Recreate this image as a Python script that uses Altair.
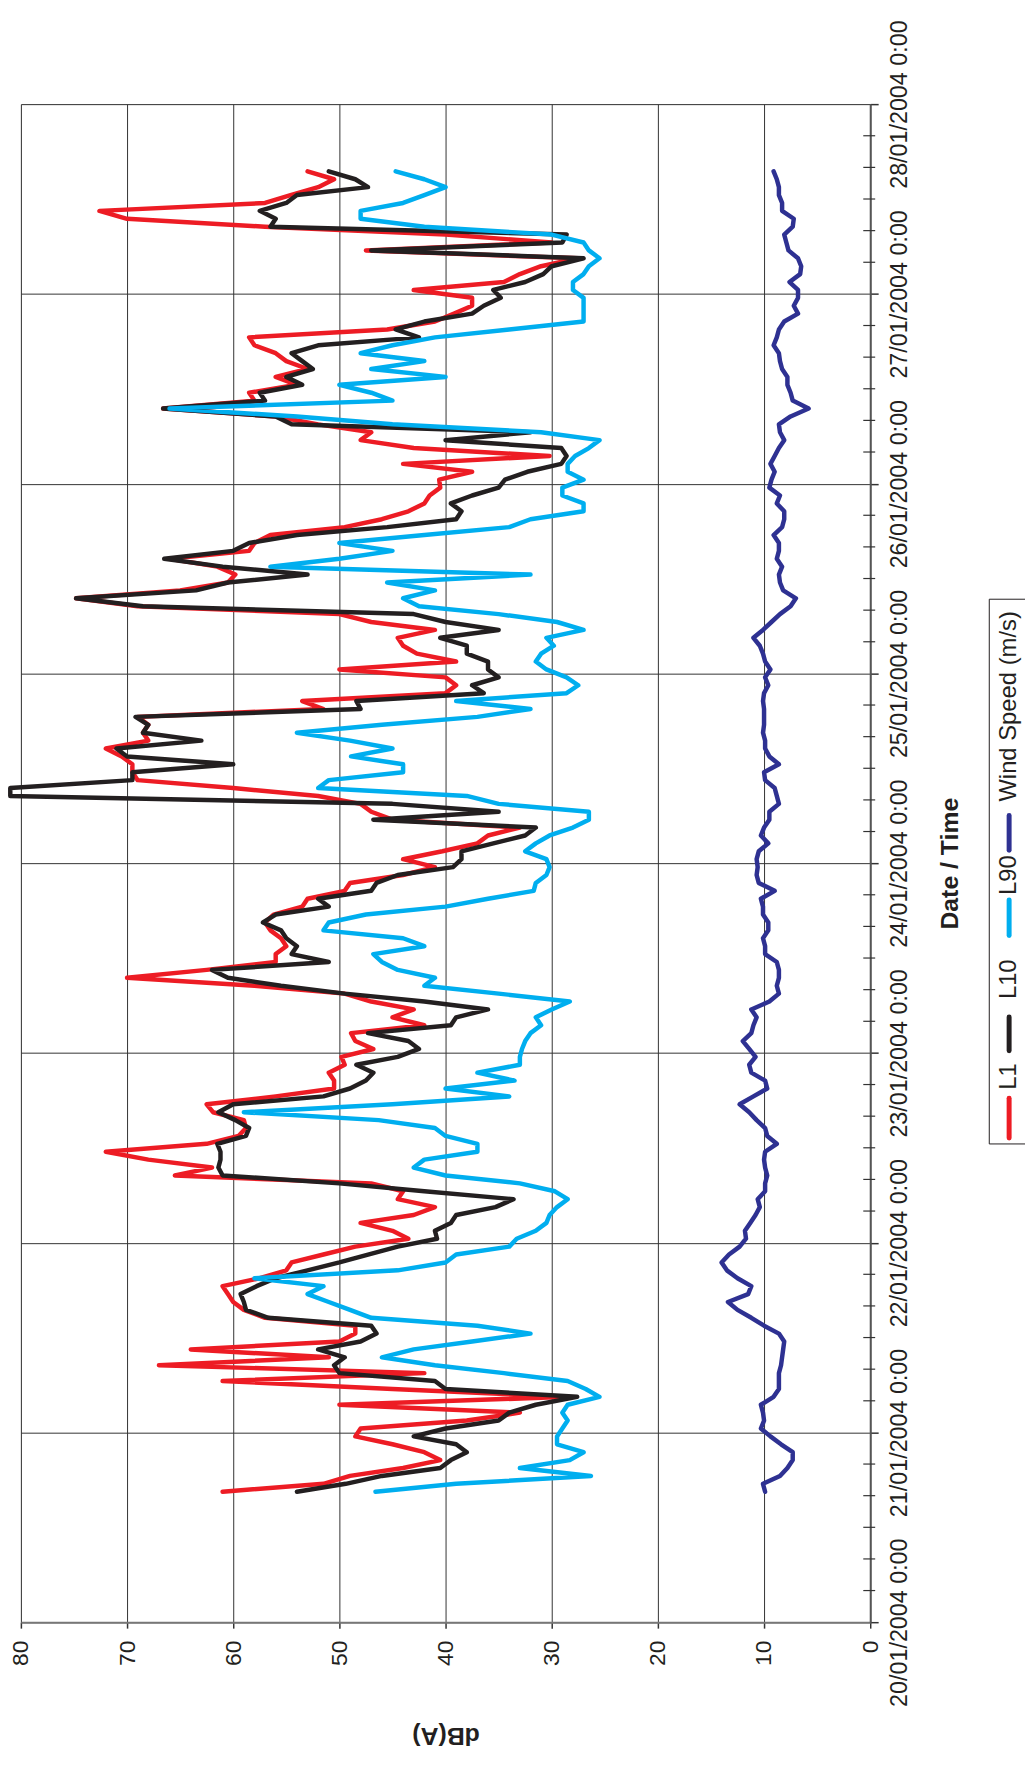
import altair as alt
import pandas as pd

# ---------------- data (hourly from 20/01/2004 16:30) -------------
l1 = [61, 51.5, 49, 44, 40.5, 42, 45, 48.5, 48, 38, 33, 50,
      28.5, 45, 61, 42, 67, 51, 64, 50, 48.5, 48.5, 57, 59,
      60, 60.5, 61, 57.5, 55, 54.5, 51.5, 48.5, 43.5, 45, 48, 43,
      41, 44.5, 44, 47, 65.5, 62, 68, 72, 62.5, 59.5, 58.8, 59,
      61.9, 62.5, 56, 50.5, 50.5, 51, 49.5, 49.8, 46.8, 48.5, 48.9, 42,
      45, 43, 47, 49.5, 58, 70, 62.5, 56, 56, 55, 55.5, 56.5,
      57, 56.2, 53.5, 53, 49.5, 49, 44, 41, 44, 40.3, 37, 36,
      33, 45, 47, 48, 52, 60, 69, 69.5, 69.5, 70.5, 72, 68,
      68.5, 68, 69, 51.5, 53.5, 40, 39, 40, 50, 39, 42.7, 44,
      44.5, 41, 47, 50, 69, 74.8, 65, 60.5, 59.8, 61.5, 66, 58.5,
      58, 56.5, 49.5, 46, 43.5, 42, 41.5, 40.5, 40.6, 37.5, 44, 30.2,
      43, 48, 47, 52, 56, 66.6, 58, 58.5, 54, 56, 53, 55,
      56, 58, 58.5, 45.5, 41, 39.2, 37.5, 37.5, 43, 34.5, 33, 31,
      27.5, 47.5, 30, 40, 57, 70, 72.6, 57, 54.6, 52, 50.5, 53]

l10 = [54, 49.4, 46, 40.5, 39.5, 38, 39, 43, 40, 35, 34, 31.5,
       27.6, 40, 41, 50, 50.5, 49.5, 52, 48, 46.5, 47, 56.7, 58.8,
       59, 59.3, 57.8, 56, 53, 50, 47.3, 44.5, 40.8, 41, 39.5, 39,
       35.3, 33.6, 42, 50, 61, 61.4, 61.2, 61.2, 61.5, 58.8, 58.5, 59.8,
       61.4, 60, 51.5, 49, 47.5, 46.8, 48.4, 44.5, 42.5, 43.5, 47.3, 39.5,
       39, 36, 42, 49.5, 55.5, 60.5, 62, 51, 54.5, 54, 55, 55.5,
       57.2, 56, 51, 52, 47, 46.5, 44.5, 39.3, 38.5, 38.5, 35.5, 32.5,
       31.5, 46.8, 35, 45, 81, 81, 69.5, 69.5, 60, 70, 71, 63,
       68.5, 68, 69.2, 48, 48.4, 36.4, 37.5, 35, 36, 36, 38, 38,
       40.5, 35, 40, 43, 68.5, 74.8, 63.5, 60.5, 53, 61, 66.5, 60,
       58.5, 54, 45.5, 39, 38.5, 39.5, 37.5, 35, 34.4, 32.3, 29.1, 28.6,
       29.1, 40, 32, 54.5, 56, 66.6, 57, 57.5, 53.5, 55, 52.5, 53.5,
       54.5, 52, 42.5, 44.7, 42, 37.5, 36.4, 34.8, 35.5, 32.5, 30.8, 30,
       27, 47, 29, 28.6, 56.5, 56, 57.5, 55, 54, 47.3, 48.5, 51]

l90 = [46.6, 39, 26.3, 33, 28.3, 27, 29.5, 29.5, 29, 28.5, 29, 28.5,
       25.5, 26.8, 28.5, 34.5, 41, 46, 43, 37.5, 32, 37, 47, 49,
       51, 53, 51.5, 58, 44.5, 40, 39, 34, 33.3, 31.5, 30.5, 30.2,
       29.5, 28.5, 29.7, 33, 40, 43, 42, 37, 37, 40, 41, 46.3,
       59, 45, 34, 40, 33.5, 37, 33, 33, 32.8, 32.5, 32, 31,
       31.5, 30, 28.3, 35, 42, 41, 44.5, 46, 46.8, 42, 44, 51.5,
       51, 47.5, 40, 36, 31.7, 31.5, 30.5, 30.2, 30.5, 32.5, 31.5, 30.2,
       28, 26.5, 26.5, 35, 38, 52, 51, 44, 44, 48.9, 45, 49,
       54, 46, 37, 32, 39, 28.6, 27.5, 28.6, 30.5, 31.5, 31, 29.8,
       30.5, 27, 29.5, 35, 42.5, 44, 41, 45.5, 32, 56.5, 50, 45,
       50, 42, 34, 32, 27, 27, 29, 29, 27, 28.5, 28.5, 27.8,
       26.5, 25.5, 31, 45, 54, 66, 45, 47, 50, 40, 47, 42,
       48, 45, 41, 34, 27, 27, 27, 27, 28, 28, 27, 26.5,
       25.5, 26.5, 27, 30, 42, 48, 48, 44, 42, 40, 42, 44.7]

wind = [9.9, 10.1, 8.5, 7.8, 7.3, 7.3, 8.4, 9.4, 10.3, 10.0, 10.1, 10.3,
        9.1, 8.6, 8.6, 8.6, 8.4, 8.3, 8.2, 8.1, 8.6, 10.0, 11.2, 12.5,
        13.4, 11.5, 11.2, 12.5, 13.5, 14, 13.3, 12.3, 11.7, 11.8, 11.3, 10.8,
        10.4, 10.6, 9.9, 9.9, 9.7, 9.9, 10, 9.9, 8.8, 9.7, 9.9, 10.7,
        11.4, 12.3, 11, 9.7, 9.9, 11.2, 11.4, 10.8, 11.4, 12, 11.2, 11,
        10.7, 11.2, 9.5, 8.6, 8.8, 8.6, 8.6, 8.8, 9.9, 9.9, 10.1, 9.6,
        9.6, 10.1, 10.1, 10.3, 9, 10.5, 10.7, 10.6, 10.7, 10.5, 9.6, 10.3,
        10, 9.5, 9.5, 8.6, 8.8, 9, 9.9, 10, 8.6, 9.5, 9.9, 9.9,
        10.1, 10, 10, 10, 10.1, 10, 9.6, 9.9, 9.4, 9.9, 10.1, 10.4,
        11, 10.1, 9.3, 8.5, 7.5, 7, 8.2, 8.5, 8.6, 8.3, 8.8, 8.6,
        8.6, 9.1, 8.3, 8.1, 8.1, 8.8, 8.5, 9.5, 9.3, 9, 9.4, 9,
        8.6, 8.1, 8.5, 8.6, 7.5, 5.8, 7.3, 7.5, 7.8, 7.8, 8.3, 8.5,
        8.6, 9.1, 8.8, 8.6, 8.1, 6.8, 7.2, 6.8, 6.8, 7.6, 6.6, 6.5,
        6.8, 7.7, 7.9, 8.1, 7.3, 7.2, 8.3, 8.3, 8.6, 8.6, 8.8, 9.1]

series_names = ["L1", "L10", "L90", "Wind Speed (m/s)"]
series_colors = ["#ED1C24", "#231F20", "#00AEEF", "#2E3192"]
first_time = "2004-01-20 16:30"
day_ticks = list(range(20, 29))          # 20/01/2004 ... 28/01/2004
db_ticks = list(range(0, 90, 10))

# ---------------- build table ----------------
times = pd.date_range(first_time, periods=len(l1), freq="h")
rows = []
for name, vals in zip(series_names, [l1, l10, l90, wind]):
    for t, v in zip(times, vals):
        rows.append({"series": name, "time": t.strftime("%Y-%m-%dT%H:%M:%S"), "value": v})
df = pd.DataFrame(rows)

minor = pd.date_range("2004-01-20 04:00", "2004-01-27 20:00", freq="4h")
minor_df = pd.DataFrame({"time": [t.strftime("%Y-%m-%dT%H:%M:%S") for t in minor if t.hour != 0]})

W, H = 856, 1530
SANS = "Liberation Sans, Arial, Helvetica, sans-serif"
INK = "#231F20"

xscale = alt.Scale(domain=[0, 80], reverse=True, nice=False, zero=False)
yscale = alt.Scale(domain=[alt.DateTime(year=2004, month=1, date=20),
                           alt.DateTime(year=2004, month=1, date=28)], nice=False)

xaxis = alt.Axis(
    values=db_ticks, labelAngle=270, labelAlign="right", labelBaseline="middle",
    labelFont=SANS, labelFontSize=23, labelColor=INK, labelPadding=12, labelLimit=0,
    tickSize=6, tickColor="#333333", tickWidth=1.5,
    grid=True, gridColor="#333333", gridWidth=1,
    domainColor="#777777", domainWidth=2,
    labelOverlap=False, labelFlush=False, labelBound=False,
    title="dB(A)", titleAngle=180, titleFont=SANS, titleFontSize=25,
    titleFontWeight="bold", titleColor=INK,
    titleX=W / 2, titleY=114, titleAlign="center", titleBaseline="middle",
)
yaxis = alt.Axis(
    orient="right",
    values=[alt.DateTime(year=2004, month=1, date=d) for d in day_ticks],
    format="%d/%m/%Y %-H:%M",
    labelAngle=270, labelAlign="center", labelBaseline="top",
    labelFont=SANS, labelFontSize=23.5, labelColor=INK, labelPadding=10, labelLimit=0,
    labelOverlap=False, labelFlush=False, labelBound=False,
    tickSize=8, tickColor="#333333", tickWidth=1.5,
    grid=True, gridColor="#333333", gridWidth=1,
    domainColor="#555555", domainWidth=2,
    title="Date / Time", titleAngle=270, titleFont=SANS, titleFontSize=25,
    titleFontWeight="bold", titleColor=INK,
    titleX=80, titleY=H / 2, titleAlign="center", titleBaseline="middle",
)

base = alt.Chart(df)
layers = []
for i, (name, col) in enumerate(zip(series_names, series_colors)):
    if i == 0:
        xe = alt.X("value:Q", scale=xscale, axis=xaxis, title="dB(A)")
        ye = alt.Y("time:T", scale=yscale, axis=yaxis, title="Date / Time")
    else:
        xe = alt.X("value:Q", scale=xscale)
        ye = alt.Y("time:T", scale=yscale)
    layers.append(
        base.transform_filter(alt.datum.series == name)
        .mark_line(color=col, strokeWidth=4.5, strokeJoin="round", strokeCap="round")
        .encode(x=xe, y=ye, order=alt.Order("time:T"))
    )

# minor ticks on the time axis (every 4 hours)
layers.append(
    alt.Chart(minor_df).mark_rule(color="#333333", strokeWidth=1.2).encode(
        y=alt.Y("time:T", scale=yscale), x=alt.value(W - 7), x2=alt.value(W + 5)
    )
)

# legend (rotated, as in the reference)
one = pd.DataFrame({"k": [0]})
LX = 996
layers.append(
    alt.Chart(one).mark_rect(fill="white", stroke=INK, strokeWidth=1).encode(
        x=alt.value(976), x2=alt.value(1040), y=alt.value(499), y2=alt.value(1048)
    )
)
sym_pos = [(1002, 1042), (920, 954), (802, 838), (717, 752)]
txt_pos = [980, 882, 777, 607]
for name, col, (s1, s2), tc in zip(series_names, series_colors, sym_pos, txt_pos):
    layers.append(
        alt.Chart(one).mark_rule(color=col, strokeWidth=5, strokeCap="round").encode(
            x=alt.value(LX), y=alt.value(s1), y2=alt.value(s2)
        )
    )
    layers.append(
        alt.Chart(one).mark_text(angle=270, align="center", baseline="middle",
                                 font=SANS, fontSize=24, color=INK).encode(
            x=alt.value(LX), y=alt.value(tc), text=alt.value(name)
        )
    )

chart = (
    alt.layer(*layers)
    .properties(width=W, height=H, autosize="none",
                padding={"left": 13, "top": 90, "right": 156, "bottom": 130})
    .configure_view(stroke="#999999", strokeWidth=2)
    .configure(background="white")
)

chart.save("out.html", embed_options={"renderer": "svg", "actions": False})
